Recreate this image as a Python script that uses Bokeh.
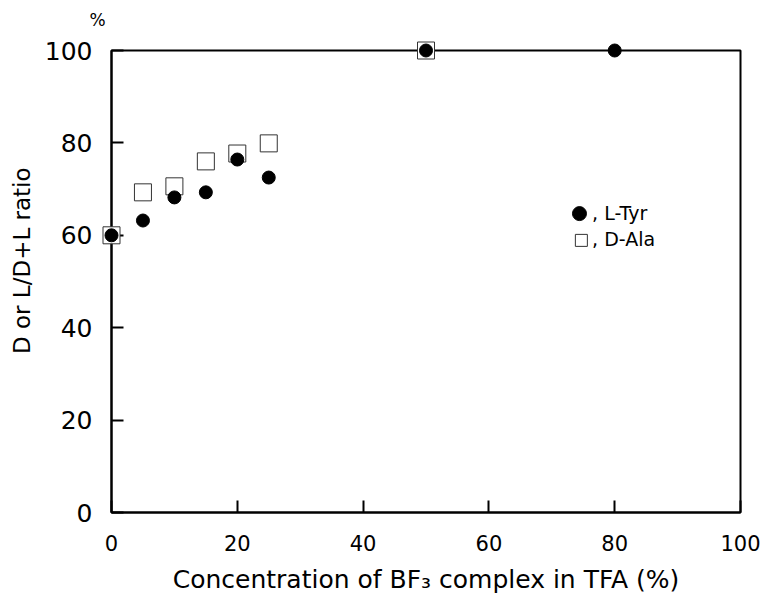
import math
from bokeh.plotting import figure
from bokeh.models import Range1d, FixedTicker
from bokeh.core.properties import value
from bokeh.embed import file_html
from bokeh.resources import INLINE

# ---- data ----
tyr_x = [0, 5, 10, 15, 20, 25, 50, 80]
tyr_y = [60, 63.2, 68.2, 69.3, 76.4, 72.5, 100, 100]

ala_x = [0, 5, 10, 15, 20, 25, 50]
ala_y = [60, 69.3, 70.6, 76.0, 77.7, 79.9, 100]

x_ticks = [0, 20, 40, 60, 80, 100]
y_ticks = [0, 20, 40, 60, 80, 100]

legend_labels = [", L-Tyr", ", D-Ala"]
x_title = "Concentration of BF\u2083 complex in TFA (%)"
y_title = "D or L/D+L ratio"
unit_text = "%"

FONT = "DejaVu Sans"

p = figure(width=763, height=600,
           x_range=Range1d(0, 100), y_range=Range1d(0, 100),
           output_backend="svg", toolbar_location=None,
           min_border_left=111, min_border_right=23,
           min_border_top=50, min_border_bottom=88)

p.grid.visible = False
p.background_fill_color = "white"
p.border_fill_color = "white"
p.outline_line_color = "black"
p.outline_line_width = 2

for ax in (p.xaxis[0], p.yaxis[0]):
    ax.axis_line_width = 2
    ax.axis_line_color = "black"
    ax.major_tick_in = 12
    ax.major_tick_out = 0
    ax.major_tick_line_width = 2
    ax.minor_tick_line_color = None
    ax.major_label_text_font = FONT
    ax.major_label_text_color = "black"
    ax.axis_label_text_font = FONT
    ax.axis_label_text_font_style = "normal"
    ax.axis_label_text_color = "black"

p.xaxis.ticker = FixedTicker(ticks=x_ticks)
p.yaxis.ticker = FixedTicker(ticks=y_ticks)

p.xaxis.major_label_text_font_size = "21px"
p.xaxis.major_label_standoff = 22
p.xaxis.axis_label = x_title
p.xaxis.axis_label_text_font_size = "25px"
p.xaxis.axis_label_standoff = 11

p.yaxis.major_label_text_font_size = "25px"
p.yaxis.major_label_standoff = 19

# y title drawn as rotated text (placed higher than frame centre, as in the original)
yt = p.text([-14.3], [54.5], text=[y_title], angle=math.pi / 2,
            text_font=value(FONT), text_font_size="23px",
            text_align="center", text_baseline="middle", text_color="black")
yt.level = "overlay"

ut = p.text([-2.2], [106.5], text=[unit_text],
            text_font=value(FONT), text_font_size="17px",
            text_align="center", text_baseline="middle", text_color="black")
ut.level = "overlay"

# data markers (overlay level so edge points are not clipped by the frame)
r_ala = p.scatter(ala_x, ala_y, marker="square", size=17,
                  fill_color="white", line_color="#333333", line_width=1)
r_tyr = p.scatter(tyr_x, tyr_y, marker="circle", size=13,
                  fill_color="black", line_color="black")
r_ala.level = "overlay"
r_tyr.level = "overlay"

# hand-drawn key, as in the original figure
p.scatter([74.4], [64.7], marker="circle", size=14,
          fill_color="black", line_color="black")
p.scatter([74.7], [58.9], marker="square", size=12,
          fill_color="white", line_color="#333333", line_width=1)
p.text([76.4, 76.4], [64.9, 59.1], text=legend_labels,
       text_font=value(FONT), text_font_size="19px",
       text_baseline="middle", text_align="left", text_color="black")

open("out.html", "w").write(file_html(p, INLINE))
